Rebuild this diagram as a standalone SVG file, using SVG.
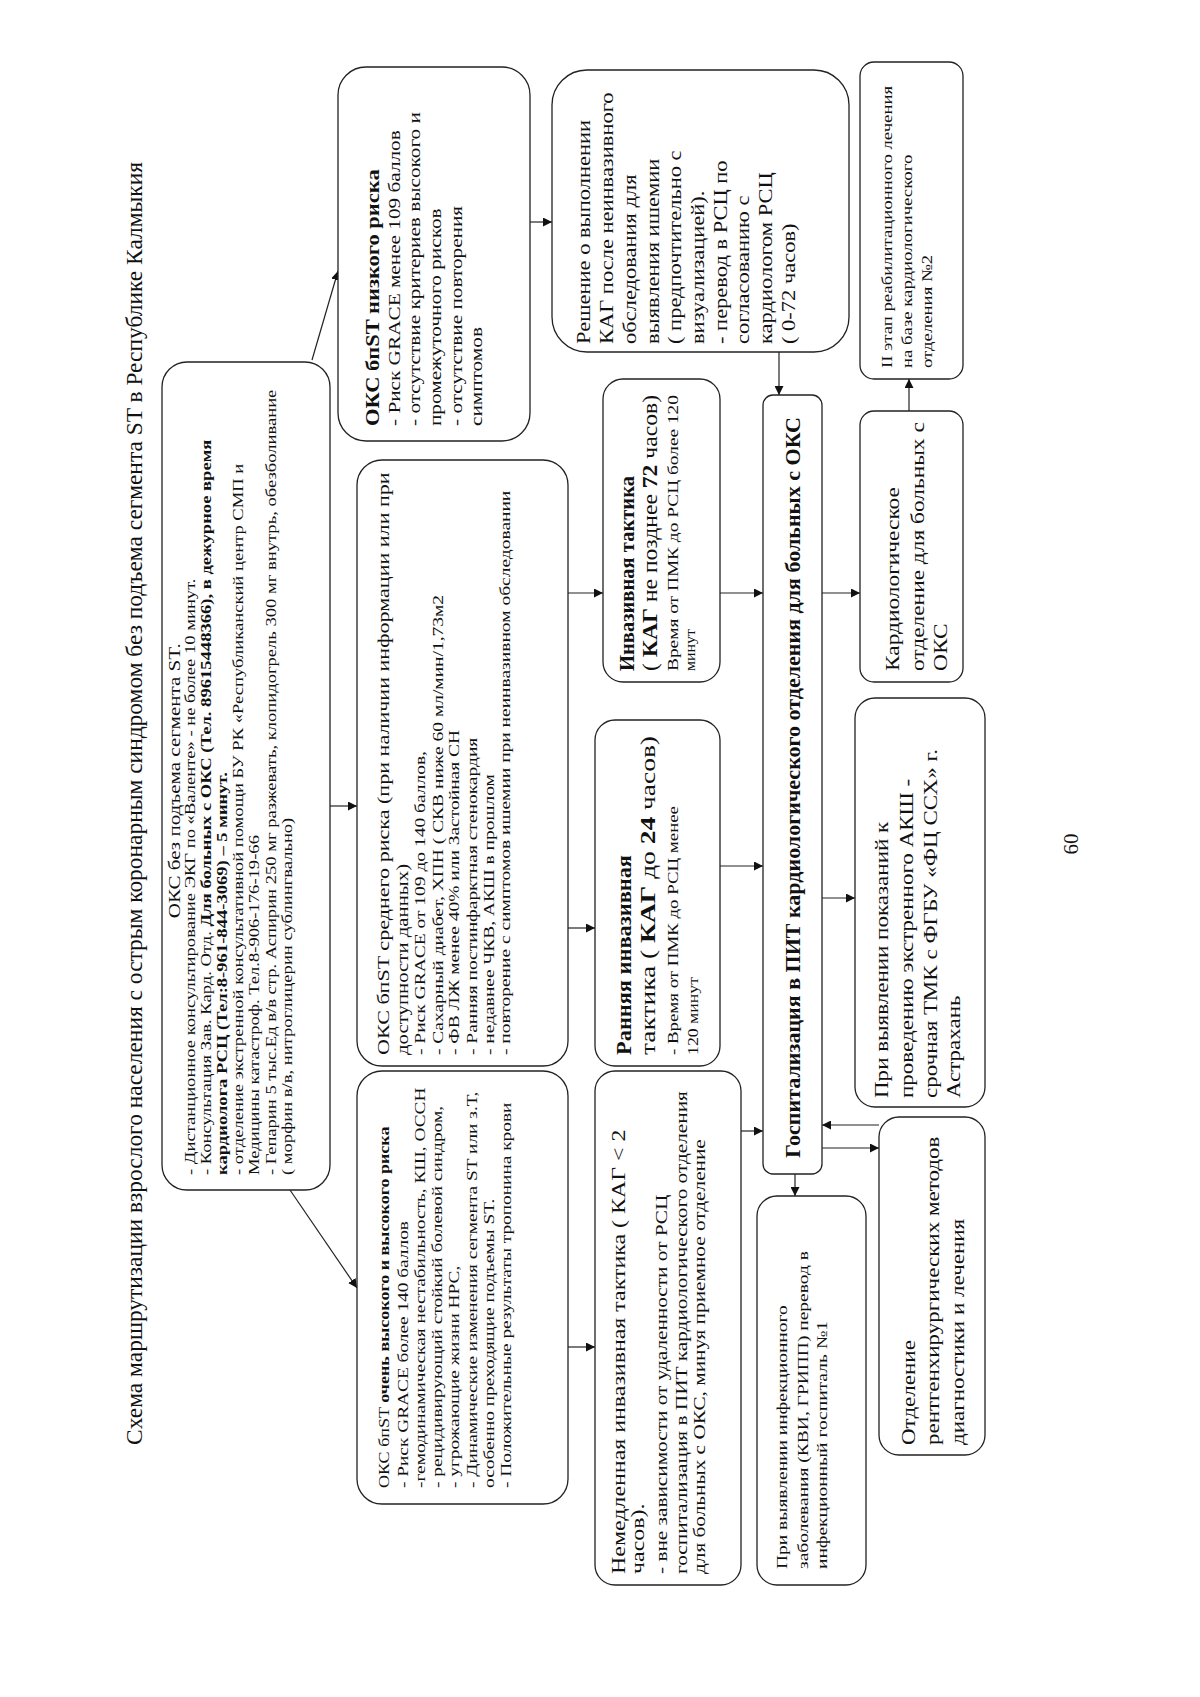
<svg xmlns="http://www.w3.org/2000/svg" width="1200" height="1697" viewBox="0 0 1200 1697">
<defs>
<marker id="ah" viewBox="0 0 10 10" refX="10" refY="5" markerWidth="9" markerHeight="9" markerUnits="userSpaceOnUse" orient="auto">
<path d="M0,0 L10,5 L0,10 z" fill="#111"/>
</marker>
<style>
.box{fill:#fff;stroke:#222;stroke-width:1.3}
.ln{fill:none;stroke:#222;stroke-width:1.2}
text{font-family:"Liberation Serif","DejaVu Serif",serif;fill:#111}
.s13{font-size:15px}
.s18{font-size:20px}
.b{font-weight:bold}
</style>
</defs>
<rect width="1200" height="1697" fill="#fff"/>
<g transform="translate(0,1697) rotate(-90)">
<text x="252" y="142" font-size="24" textLength="1283" lengthAdjust="spacingAndGlyphs">Схема маршрутизации взрослого населения с острым коронарным синдромом без  подъема сегмента ST в Республике Калмыкия</text>

<g id="connectors">
<line class="ln" x1="1337" y1="312" x2="1426" y2="338" marker-end="url(#ah)"/>
<line class="ln" x1="507" y1="290" x2="409" y2="357" marker-end="url(#ah)"/>
<line class="ln" x1="891" y1="330" x2="891" y2="357" marker-end="url(#ah)"/>
<line class="ln" x1="1475" y1="530" x2="1475" y2="552" marker-end="url(#ah)"/>
<line class="ln" x1="1104" y1="568" x2="1104" y2="603" marker-end="url(#ah)"/>
<line class="ln" x1="769" y1="568" x2="769" y2="595" marker-end="url(#ah)"/>
<line class="ln" x1="350" y1="568" x2="350" y2="595" marker-end="url(#ah)"/>
<line class="ln" x1="1104" y1="720" x2="1104" y2="763" marker-end="url(#ah)"/>
<line class="ln" x1="831" y1="720" x2="831" y2="763" marker-end="url(#ah)"/>
<line class="ln" x1="566" y1="741" x2="566" y2="763" marker-end="url(#ah)"/>
<line class="ln" x1="1345" y1="779" x2="1302" y2="779" marker-end="url(#ah)"/>
<line class="ln" x1="1104" y1="822" x2="1104" y2="860" marker-end="url(#ah)"/>
<line class="ln" x1="799" y1="822" x2="799" y2="855" marker-end="url(#ah)"/>
<line class="ln" x1="523" y1="795" x2="501" y2="795" marker-end="url(#ah)"/>
<line class="ln" x1="572" y1="879" x2="572" y2="822" marker-end="url(#ah)"/>
<line class="ln" x1="549" y1="822" x2="549" y2="879" marker-end="url(#ah)"/>
<line class="ln" x1="1286" y1="909" x2="1318" y2="909" marker-end="url(#ah)"/>
</g>

<g id="n-central">
<rect class="box" x="507" y="162" width="828" height="168" rx="25"/>
<g transform="translate(522 0) scale(1.24 1)" font-size="15">
<text x="318" y="180" text-anchor="middle" font-size="17">ОКС без подъема сегмента ST.</text>
<text x="0" y="195">- Дистанционное консультирование ЭКГ по «Валенте» - не более 10 минут.</text>
<text x="0" y="211">- Консультация Зав. Кард. Отд. <tspan class="b">Для больных с ОКС (Тел. 89615448366), в дежурное время</tspan></text>
<text x="0" y="227" class="b">кардиолога РСЦ (Тел:8-961-844-3069) – 5 минут.</text>
<text x="0" y="243">- отделение экстренной консультативной помощи БУ РК «Республиканский центр СМП и</text>
<text x="0" y="259">Медицины катастроф. Тел.8-906-176-19-66</text>
<text x="0" y="276">- Гепарин 5 тыс.Ед в/в стр. Аспирин 250 мг разжевать, клопидогрель 300 мг внутрь, обезболивание</text>
<text x="0" y="292">( морфин в/в, нитроглицерин сублингвально)</text>
</g>
</g>

<g id="n-low">
<rect class="box" x="1256" y="338" width="374" height="192" rx="28"/>
<g transform="translate(1271 0) scale(1.25 1)" font-size="17">
<text x="0" y="379" class="b" font-size="18">ОКС бпST низкого риска</text>
<text x="0" y="400">- Риск GRACE менее 109 баллов</text>
<text x="0" y="420">- отсутствие критериев высокого и</text>
<text x="0" y="441">промежуточного рисков</text>
<text x="0" y="462">- отсутствие повторения</text>
<text x="0" y="482">симптомов</text>
</g>
</g>

<g id="n-decision">
<rect class="box" x="1345" y="552" width="282" height="297" rx="35"/>
<g transform="translate(1353 0) scale(1.25 1)" font-size="18">
<text x="0" y="590">Решение о выполнении</text>
<text x="0" y="613">КАГ после неинвазивного</text>
<text x="0" y="636">обследования для</text>
<text x="0" y="659">выявления ишемии</text>
<text x="0" y="681">( предпочтительно с</text>
<text x="0" y="704">визуализацией).</text>
<text x="0" y="727">- перевод в РСЦ по</text>
<text x="0" y="749">согласованию с</text>
<text x="0" y="772">кардиологом РСЦ</text>
<text x="0" y="795">( 0-72 часов)</text>
</g>
</g>

<g id="n-stage2">
<rect class="box" x="1318" y="860" width="317" height="103" rx="14"/>
<g transform="translate(1329 0) scale(1.25 1)" font-size="15">
<text x="0" y="892">II этап реабилитационного лечения</text>
<text x="0" y="912">на базе кардиологического</text>
<text x="0" y="932">отделения №2</text>
</g>
</g>

<g id="n-middle">
<rect class="box" x="631" y="357" width="606" height="211" rx="25"/>
<g transform="translate(642 0) scale(1.3 1)" font-size="15">
<text x="0" y="389" font-size="17">ОКС бпST  среднего риска (при наличии информации или при</text>
<text x="0" y="408" font-size="16">доступности данных)</text>
<text x="0" y="425">- Риск GRACE   от 109 до 140 баллов,</text>
<text x="0" y="443">- Сахарный диабет, ХПН ( СКВ ниже 60 мл/мин/1,73м2</text>
<text x="0" y="459">- ФВ ЛЖ менее 40% или Застойная СН</text>
<text x="0" y="477">- Ранняя постинфарктная стенокардия</text>
<text x="0" y="494">- недавнее ЧКВ, АКШ в прошлом</text>
<text x="0" y="510">- повторение с симптомов ишемии при неинвазивном обследовании</text>
</g>
</g>

<g id="n-high">
<rect class="box" x="193" y="357" width="433" height="211" rx="25"/>
<g transform="translate(209 0) scale(1.29 1)" font-size="15">
<text x="0" y="389" font-size="14">ОКС бпST  <tspan class="b">очень высокого и высокого риска</tspan></text>
<text x="0" y="408">- Риск GRACE   более 140 баллов</text>
<text x="0" y="425">-гемодинамическая нестабильность, КШ,  ОССН</text>
<text x="0" y="442">- рецидивирующий стойкий болевой синдром,</text>
<text x="0" y="459">-  угрожающие жизни НРС,</text>
<text x="0" y="477">-  Динамические изменения сегмента ST или з.Т,</text>
<text x="0" y="494">особенно преходящие подъемы ST.</text>
<text x="0" y="511">- Положительные результаты тропонина крови</text>
</g>
</g>

<g id="n-inv72">
<rect class="box" x="1015" y="603" width="303" height="117" rx="20"/>
<text class="s18 b" x="1026" y="634" textLength="195" lengthAdjust="spacingAndGlyphs">Инвазивная тактика</text>
<text class="s18" x="1026" y="657" textLength="276" lengthAdjust="spacingAndGlyphs">( <tspan class="b">КАГ</tspan> не позднее <tspan class="b">72</tspan> часов)</text>
<text class="s13" x="1026" y="678" textLength="276" lengthAdjust="spacingAndGlyphs">Время от ПМК до РСЦ более  120</text>
<text class="s13" x="1026" y="695" textLength="42" lengthAdjust="spacingAndGlyphs">минут</text>
</g>

<g id="n-early">
<rect class="box" x="631" y="595" width="346" height="125" rx="20"/>
<text class="s18 b" x="642" y="631" textLength="200" lengthAdjust="spacingAndGlyphs">Ранняя инвазивная</text>
<text class="s18" x="642" y="655" textLength="319" lengthAdjust="spacingAndGlyphs">тактика ( <tspan class="b">КАГ</tspan> до <tspan class="b">24</tspan> часов)</text>
<text class="s13" x="642" y="678" textLength="249" lengthAdjust="spacingAndGlyphs">- Время от ПМК до РСЦ менее</text>
<text class="s13" x="642" y="698" textLength="78" lengthAdjust="spacingAndGlyphs">120 минут</text>
</g>

<g id="n-immediate">
<rect class="box" x="112" y="595" width="514" height="146" rx="20"/>
<g transform="translate(123 0) scale(1.33 1)" font-size="16">
<text x="0" y="625" font-size="18">Немедленная  инвазивная тактика ( КАГ &lt; 2</text>
<text x="0" y="644" font-size="18">часов).</text>
<text x="0" y="667">-   вне зависимости от удаленности от РСЦ</text>
<text x="0" y="687">госпитализация в ПИТ кардиологического отделения</text>
<text x="0" y="705">для больных с ОКС, минуя приемное отделение</text>
</g>
</g>

<g id="n-hosp">
<rect class="box" x="523" y="763" width="779" height="59" rx="10"/>
<text class="b" font-size="21" x="539" y="800" textLength="741" lengthAdjust="spacingAndGlyphs">Госпитализация в ПИТ кардиологического отделения для больных с ОКС</text>
</g>

<g id="n-cardio">
<rect class="box" x="1015" y="860" width="271" height="103" rx="14"/>
<g transform="translate(1026 0) scale(1.3 1)" font-size="18">
<text x="0" y="899">Кардиологическое</text>
<text x="0" y="924">отделение для больных с</text>
<text x="0" y="947">ОКС</text>
</g>
</g>

<g id="n-transfer">
<rect class="box" x="590" y="855" width="409" height="130" rx="20"/>
<g transform="translate(599 0) scale(1.28 1)" font-size="18">
<text x="0" y="888">При  выявлении показаний к</text>
<text x="0" y="913">проведению экстренного АКШ -</text>
<text x="0" y="937">срочная ТМК с ФГБУ «ФЦ ССХ» г.</text>
<text x="0" y="960">Астрахань</text>
</g>
</g>

<g id="n-xray">
<rect class="box" x="242" y="879" width="338" height="106" rx="20"/>
<g transform="translate(252 0) scale(1.28 1)" font-size="18">
<text x="0" y="915">Отделение</text>
<text x="0" y="939">рентгенхирургических методов</text>
<text x="0" y="964">диагностики и лечения</text>
</g>
</g>

<g id="n-infection">
<rect class="box" x="112" y="757" width="389" height="109" rx="20"/>
<g transform="translate(128 0) scale(1.3 1)" font-size="15">
<text x="0" y="787">При выявлении инфекционного</text>
<text x="0" y="808">заболевания (КВИ, ГРИПП) перевод в</text>
<text x="0" y="827">инфекционный госпиталь №1</text>
</g>
</g>

<text font-size="21" x="853" y="1078" text-anchor="middle">60</text>
</g>
</svg>
